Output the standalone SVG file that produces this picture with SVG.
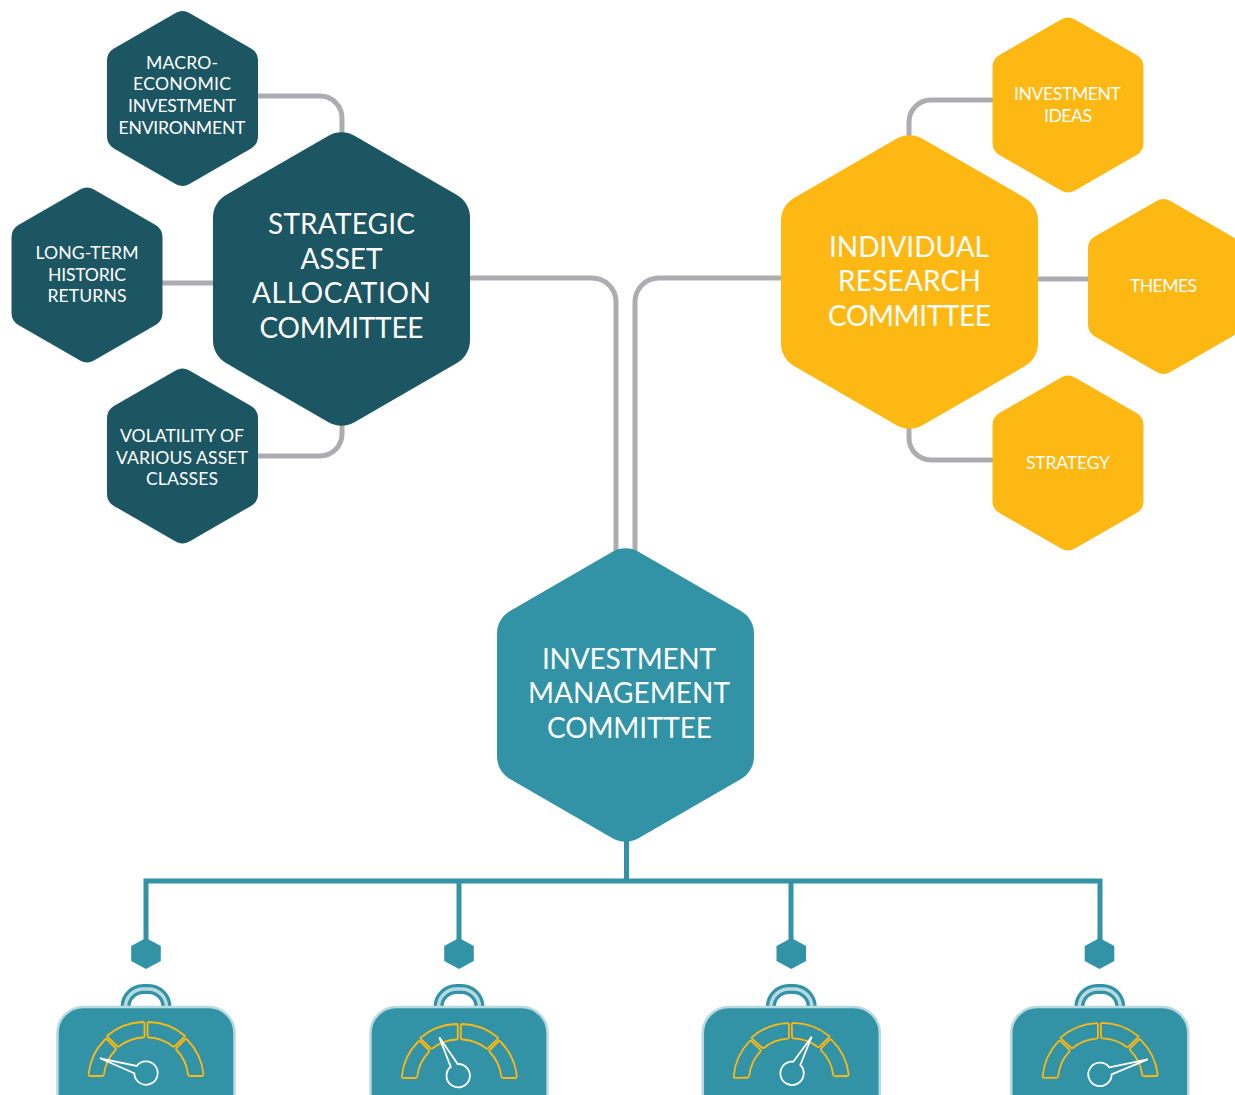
<svg xmlns="http://www.w3.org/2000/svg" width="1235" height="1095" viewBox="0 0 1235 1095">
<style>
text{font-family:"Lato","Noto Sans",sans-serif;fill:#fff;text-anchor:middle}
.l{font-size:28px}
.s{font-size:17.6px}
.dark{fill:#1c5662}.yel{fill:#fdb813}.teal{fill:#3193a5}
.gray{fill:none;stroke:#adacb2;stroke-width:5}
.tree{fill:none;stroke:#3193a5;stroke-width:5}
.body{fill:#3193a5;stroke:#b7d9df;stroke-width:2.5}
.h1{fill:none;stroke:#3193a5;stroke-width:10}
.h2{fill:none;stroke:#b7d9df;stroke-width:3.5}
.seg{fill:none;stroke:#fdb813;stroke-width:1.8;stroke-linejoin:round}
.needle{fill:none;stroke:#fff;stroke-width:1.8;stroke-linejoin:miter}
</style>
<defs>
<path id="hl" d="M13,-143.2L115.5,-84.1A26,26 0 0 1 128.5,-61.6V61.6A26,26 0 0 1 115.5,84.1L13,143.2A26,26 0 0 1 -13,143.2L-115.5,84.1A26,26 0 0 1 -128.5,61.6V-61.6A26,26 0 0 1 -115.5,-84.1L-13,-143.2A26,26 0 0 1 13,-143.2Z"/>
<path id="hs" d="M6.9,-85.5L68.6,-49.9A14,14 0 0 1 75.5,-37.9V37.9A14,14 0 0 1 68.6,49.9L6.9,85.5A14,14 0 0 1 -6.9,85.5L-68.6,49.9A14,14 0 0 1 -75.5,37.9V-37.9A14,14 0 0 1 -68.6,-49.9L-6.9,-85.5A14,14 0 0 1 6.9,-85.5Z"/>
<path id="ht" d="M0,-15.5L14.8,-7.5V7.5L0,15.5L-14.8,7.5V-7.5Z"/>
<g id="case">
<path class="h1" d="M-20.5,29V28A18,18 0 0 1 -2.5,10H2.5A18,18 0 0 1 20.5,28V29"/>
<path class="h2" d="M-20.5,29V28A18,18 0 0 1 -2.5,10H2.5A18,18 0 0 1 20.5,28V29"/>
<rect class="body" x="-88.5" y="28" width="177" height="120" rx="26"/>
</g>
<g id="gauge">
<path class="seg" d="M-57.5,-5.5A57.5,57.5 0 0 1 -41,-40.5Q-40,-41.5 -39,-40.5L-30.5,-32Q-29.5,-31 -30.5,-30A42,42 0 0 0 -42,-5.5Q-42.5,-4 -44,-4H-56Q-57.5,-4 -57.5,-5.5Z"/>
<path class="seg" d="M-38.5,-44.5A58,58 0 0 1 -3,-58Q-1.5,-58 -1.5,-56.5V-44Q-1.5,-42.5 -3,-42.5A42,42 0 0 0 -27,-33.5Q-28,-33 -29,-34L-38,-42.5Q-39.5,-44 -38.5,-44.5Z"/>
<path class="seg" d="M38.5,-44.5A58,58 0 0 0 3,-58Q1.5,-58 1.5,-56.5V-44Q1.5,-42.5 3,-42.5A42,42 0 0 1 27,-33.5Q28,-33 29,-34L38,-42.5Q39.5,-44 38.5,-44.5Z"/>
<path class="seg" d="M57.5,-5.5A57.5,57.5 0 0 0 41,-40.5Q40,-41.5 39,-40.5L30.5,-32Q29.5,-31 30.5,-30A42,42 0 0 1 42,-5.5Q42.5,-4 44,-4H56Q57.5,-4 57.5,-5.5Z"/>
</g>
</defs>

<g id="connectors">
<path class="gray" d="M258,96H320A22,22 0 0 1 342,118V140"/>
<path class="gray" d="M162,283H215"/>
<path class="gray" d="M258,456H320A22,22 0 0 0 342,434V420"/>
<path class="gray" d="M468,278H592A24,24 0 0 1 616,302V552"/>
<path class="gray" d="M783,278H659A24,24 0 0 0 635,302V552"/>
<path class="gray" d="M993,100H931A22,22 0 0 0 909,122V140"/>
<path class="gray" d="M1036,279H1090"/>
<path class="gray" d="M993,460H931A22,22 0 0 1 909,438V425"/>
<path class="tree" d="M626.5,840V881"/>
<path class="tree" d="M146,953V881H1100V953"/>
<path class="tree" d="M459,881V953"/>
<path class="tree" d="M791,881V953"/>
</g>

<g id="node-macro"><use href="#hs" x="182.5" y="98.5" class="dark"/>
<text class="s" x="182" y="69" textLength="72">MACRO-</text><text class="s" x="182" y="90" textLength="98">ECONOMIC</text><text class="s" x="182" y="112" textLength="108">INVESTMENT</text><text class="s" x="182" y="134" textLength="127">ENVIRONMENT</text></g>
<g id="node-longterm"><use href="#hs" x="87" y="275" class="dark"/>
<text class="s" x="87" y="259" textLength="103">LONG-TERM</text><text class="s" x="87" y="281" textLength="78">HISTORIC</text><text class="s" x="87" y="302" textLength="79">RETURNS</text></g>
<g id="node-volatility"><use href="#hs" x="182.5" y="456" class="dark"/>
<text class="s" x="182" y="442" textLength="124">VOLATILITY OF</text><text class="s" x="182" y="464" textLength="132">VARIOUS ASSET</text><text class="s" x="182" y="485" textLength="72">CLASSES</text></g>
<g id="node-saa"><use href="#hl" x="341.5" y="279" class="dark"/>
<text class="l" x="341.5" y="234" textLength="147">STRATEGIC</text><text class="l" x="341.5" y="268.5" textLength="82">ASSET</text><text class="l" x="341.5" y="303" textLength="179">ALLOCATION</text><text class="l" x="341.5" y="337.5" textLength="164">COMMITTEE</text></g>

<g id="node-ideas"><use href="#hs" x="1068" y="105" class="yel"/>
<text class="s" x="1067.5" y="100" textLength="107">INVESTMENT</text><text class="s" x="1068" y="122" textLength="48">IDEAS</text></g>
<g id="node-themes"><use href="#hs" x="1163.5" y="286.5" class="yel"/>
<text class="s" x="1163.5" y="292" textLength="67">THEMES</text></g>
<g id="node-strategy"><use href="#hs" x="1068" y="463" class="yel"/>
<text class="s" x="1068" y="469" textLength="84">STRATEGY</text></g>
<g id="node-irc"><use href="#hl" x="909.5" y="282" class="yel"/>
<text class="l" x="909" y="256.5" textLength="160">INDIVIDUAL</text><text class="l" x="909.5" y="291" textLength="143">RESEARCH</text><text class="l" x="909.5" y="325.5" textLength="163">COMMITTEE</text></g>

<g id="node-imc"><use href="#hl" x="625.5" y="695" class="teal"/>
<text class="l" x="629" y="668.5" textLength="174">INVESTMENT</text><text class="l" x="629" y="703" textLength="202">MANAGEMENT</text><text class="l" x="629.5" y="737.5" textLength="165">COMMITTEE</text></g>

<g id="node-case1"><use href="#ht" x="146" y="953.5" class="teal"/><use href="#case" x="146" y="979"/><use href="#gauge" x="146" y="1080"/>
<path class="needle" d="M134.3,1073.3L100,1058.3L136.7,1066A11.7,11.7 0 1 1 134.3,1073.3Z"/></g>
<g id="node-case2"><use href="#ht" x="459" y="953.5" class="teal"/><use href="#case" x="459" y="979"/><use href="#gauge" x="459.3" y="1082"/>
<path class="needle" d="M450.7,1066.7L439.3,1037.3L457.7,1064A11.7,11.7 0 1 1 450.7,1066.7Z"/></g>
<g id="node-case3"><use href="#ht" x="791.3" y="953.5" class="teal"/><use href="#case" x="791.3" y="979"/><use href="#gauge" x="791.3" y="1081" transform="rotate(-1 791 1081)"/>
<path class="needle" d="M793.3,1061.7L811.7,1036.7L800.3,1065A11.7,11.7 0 1 1 793.3,1061.7Z"/></g>
<g id="node-case4"><use href="#ht" x="1099.5" y="953.5" class="teal"/><use href="#case" x="1099.8" y="979"/><use href="#gauge" x="1100.3" y="1081" transform="rotate(-1 1100 1081)"/>
<path class="needle" d="M1109.3,1067.3L1147.7,1059.3L1111.7,1074.3A11.7,11.7 0 1 1 1109.3,1067.3Z"/></g>
</svg>
